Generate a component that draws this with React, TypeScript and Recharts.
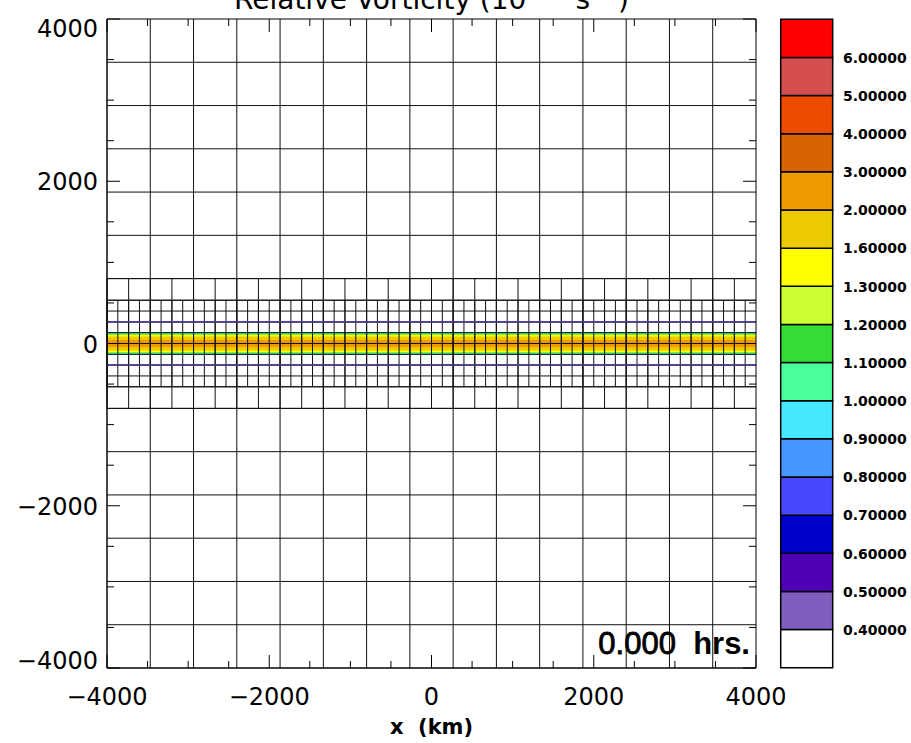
import {
  Bar,
  BarChart,
  ComposedChart,
  ReferenceArea,
  ReferenceDot,
  ReferenceLine,
  Scatter,
  XAxis,
  YAxis,
} from "recharts";

const xDomain: [number, number] = [-4000, 4000];
const yDomain: [number, number] = [-4000, 4000];
const domainCorners = [
  { x: -4000, y: -4000 },
  { x: 4000, y: 4000 },
];

const axisTicks = [
  -4000, -3500, -3000, -2500, -2000, -1500, -1000, -500, 0, 500, 1000, 1500, 2000, 2500, 3000,
  3500, 4000,
];
const majorTicks = [-4000, -2000, 0, 2000, 4000];

// AMR levels: number of columns across the domain and half height (km) of the refined strip
const gridColumns = [15, 30, 60];
const gridHalfHeight = [4000, 800, 533.33];

const contourLevels = [0.4, 0.5, 0.6, 0.7, 0.8, 0.9, 1.0, 1.1, 1.2, 1.3, 1.6, 2.0, 3.0, 4.0, 5.0, 6.0];
const levelColors = [
  "#ffffff", "#7f5fbd", "#5000b4", "#0000cc", "#4848ff", "#4696ff", "#46e8ff", "#48ff9c",
  "#33dd33", "#ccff33", "#ffff00", "#ebcb00", "#ee9a00", "#d76400", "#ee4a00", "#d64f4f",
  "#ff0000",
];

// half width (km) of the strip where vorticity exceeds each contour level
const stripHalfWidth = [138, 137, 136, 135, 134, 131, 127, 120, 112, 104, 86, 44];
const sliverRows = [-266.67, 266.67];

const TICK_MAJOR = 13;
const TICK_MINOR = 7;

type Pt = { x: number; y: number };
const gridSegments: { key: string; points: [Pt, Pt] }[] = [];
gridColumns.forEach((n, level) => {
  const cell = (xDomain[1] - xDomain[0]) / n;
  const half = gridHalfHeight[level];
  for (let i = 0; i <= n; i++) {
    const x = xDomain[0] + i * cell;
    gridSegments.push({ key: `v${level}-${i}`, points: [{ x, y: -half }, { x, y: half }] });
  }
  for (let y = -half, j = 0; y <= half + 1; y += cell, j++) {
    gridSegments.push({
      key: `h${level}-${j}`,
      points: [{ x: xDomain[0], y }, { x: xDomain[1], y }],
    });
  }
});

const colorbarRow: Record<string, number | string> = { name: "cb" };
levelColors.forEach((_, i) => {
  colorbarRow[`c${i}`] = 1;
});
const colorbarTicks = contourLevels.map((_, i) => i + 1);

const tickLength = (v: number) => (majorTicks.includes(v) ? TICK_MAJOR : TICK_MINOR);
const formatTick = (v: number) => (v < 0 ? `\u2212${Math.abs(v)}` : `${v}`);

function BottomTick({ x, y, payload }: any) {
  const v = payload.value;
  return (
    <g>
      <line x1={x} y1={y} x2={x} y2={y - tickLength(v)} stroke="#000" />
      {majorTicks.includes(v) && (
        <text x={x} y={y + 37} textAnchor="middle" fontFamily="DejaVu Sans" fontSize={24} fill="#000">
          {formatTick(v)}
        </text>
      )}
    </g>
  );
}

function TopTick({ x, y, payload }: any) {
  return <line x1={x} y1={y} x2={x} y2={y + tickLength(payload.value)} stroke="#000" />;
}

function LeftTick({ x, y, payload }: any) {
  const v = payload.value;
  const dy = v === yDomain[1] ? 17.5 : v === yDomain[0] ? 0.5 : 9;
  return (
    <g>
      <line x1={x} y1={y} x2={x + tickLength(v)} y2={y} stroke="#000" />
      {majorTicks.includes(v) && (
        <text x={x - 9} y={y + dy} textAnchor="end" fontFamily="DejaVu Sans" fontSize={24} fill="#000">
          {formatTick(v)}
        </text>
      )}
    </g>
  );
}

function RightTick({ x, y, payload }: any) {
  return <line x1={x} y1={y} x2={x - tickLength(payload.value)} y2={y} stroke="#000" />;
}

function ColorbarTick({ x, y, payload }: any) {
  return (
    <text x={x + 10} y={y + 5.3} fontFamily="DejaVu Sans" fontWeight="bold" fontSize={14} fill="#000">
      {contourLevels[payload.value - 1].toFixed(5)}
    </text>
  );
}

function TitleLabel({ viewBox }: any) {
  const cx = viewBox.x + viewBox.width / 2;
  return (
    <text x={cx} y={8.5} textAnchor="middle" fontFamily="DejaVu Sans" fontSize={28} fill="#000">
      Relative Vorticity (10
      <tspan dy={-11} fontSize={19}>
        {"\u00a0\u22125\u00a0"}
      </tspan>
      <tspan dy={11}>{"\u00a0s"}</tspan>
      <tspan dy={-11} fontSize={19}>
        {"\u22121"}
      </tspan>
      <tspan dy={11}>)</tspan>
    </text>
  );
}

function XTitle({ viewBox }: any) {
  const cx = viewBox.x + viewBox.width / 2;
  return (
    <text x={cx} y={734} textAnchor="middle" fontFamily="DejaVu Sans" fontWeight="bold" fontSize={21} fill="#000">
      {"x\u00a0\u00a0(km)"}
    </text>
  );
}

function TimeLabel({ viewBox }: any) {
  return (
    <text x={viewBox.x - 6} y={viewBox.y - 14.5} textAnchor="end" fontFamily="Liberation Sans" fontSize={31} fill="#000">
      <tspan stroke="#000" strokeWidth={0.8}>0.000</tspan>
      <tspan fontWeight="bold">{"\u00a0\u00a0hrs."}</tspan>
    </text>
  );
}

export default function App() {
  return (
    <div style={{ position: "absolute", left: 0, top: 0, width: 911, height: 743, background: "#fff" }}>
      <div style={{ position: "absolute", left: 0, top: 0 }}>
        <ComposedChart
          width={911}
          height={743}
          data={domainCorners}
          margin={{ top: 9, right: 145, bottom: 35, left: 7 }}
        >
          <XAxis
            xAxisId="bottom"
            dataKey="x"
            type="number"
            domain={xDomain}
            ticks={axisTicks}
            interval={0}
            allowDataOverflow
            height={40}
            tickSize={0}
            tickMargin={0}
            tickLine={false}
            axisLine={{ stroke: "#000" }}
            tick={BottomTick}
            label={<XTitle />}
          />
          <XAxis
            xAxisId="top"
            dataKey="x"
            orientation="top"
            type="number"
            domain={xDomain}
            ticks={axisTicks}
            interval={0}
            allowDataOverflow
            height={10}
            tickSize={0}
            tickMargin={0}
            tickLine={false}
            axisLine={{ stroke: "#000" }}
            tick={TopTick}
            label={<TitleLabel />}
          />
          <YAxis
            yAxisId="left"
            dataKey="y"
            type="number"
            domain={yDomain}
            ticks={axisTicks}
            interval={0}
            allowDataOverflow
            width={100}
            tickSize={0}
            tickMargin={0}
            tickLine={false}
            axisLine={{ stroke: "#000" }}
            tick={LeftTick}
          />
          <YAxis
            yAxisId="right"
            dataKey="y"
            orientation="right"
            type="number"
            domain={yDomain}
            ticks={axisTicks}
            interval={0}
            allowDataOverflow
            width={10}
            tickSize={0}
            tickMargin={0}
            tickLine={false}
            axisLine={{ stroke: "#000" }}
            tick={RightTick}
          />

          <Scatter
            xAxisId="bottom"
            yAxisId="left"
            data={domainCorners}
            dataKey="y"
            fill="none"
            shape={() => <g />}
            isAnimationActive={false}
          />
          <Scatter
            xAxisId="top"
            yAxisId="right"
            data={domainCorners}
            dataKey="y"
            fill="none"
            shape={() => <g />}
            isAnimationActive={false}
          />

          {stripHalfWidth.map((w, i) => (
            <ReferenceArea
              key={`strip${i}`}
              xAxisId="bottom"
              yAxisId="left"
              x1={xDomain[0]}
              x2={xDomain[1]}
              y1={-w}
              y2={w}
              fill={levelColors[i + 1]}
              fillOpacity={1}
              stroke="none"
            />
          ))}

          {gridSegments.map((s) => (
            <ReferenceLine
              key={s.key}
              xAxisId="bottom"
              yAxisId="left"
              segment={s.points}
              stroke="#111"
              strokeWidth={1}
            />
          ))}

          {sliverRows.map((y) => (
            <ReferenceLine
              key={`sliver${y}`}
              xAxisId="bottom"
              yAxisId="left"
              y={y}
              stroke="#6a48c8"
              strokeWidth={1.2}
            />
          ))}

          <ReferenceDot
            xAxisId="bottom"
            yAxisId="left"
            x={xDomain[1]}
            y={yDomain[0]}
            r={0}
            fill="none"
            stroke="none"
            label={<TimeLabel />}
          />
        </ComposedChart>
      </div>

      <div style={{ position: "absolute", left: 770, top: 0 }}>
        <BarChart
          width={141}
          height={743}
          data={[colorbarRow]}
          barCategoryGap={0}
          barGap={0}
          margin={{ top: 19.3, right: 0, bottom: 75.3, left: 10.7 }}
        >
          <XAxis dataKey="name" hide />
          <YAxis
            orientation="right"
            type="number"
            domain={[0, levelColors.length]}
            ticks={colorbarTicks}
            interval={0}
            width={78}
            tickSize={0}
            tickMargin={0}
            tickLine={false}
            axisLine={false}
            tick={ColorbarTick}
          />
          {levelColors.map((color, i) => (
            <Bar
              key={`c${i}`}
              dataKey={`c${i}`}
              stackId="cb"
              fill={color}
              stroke="#000"
              strokeWidth={1.5}
              isAnimationActive={false}
            />
          ))}
        </BarChart>
      </div>
    </div>
  );
}
